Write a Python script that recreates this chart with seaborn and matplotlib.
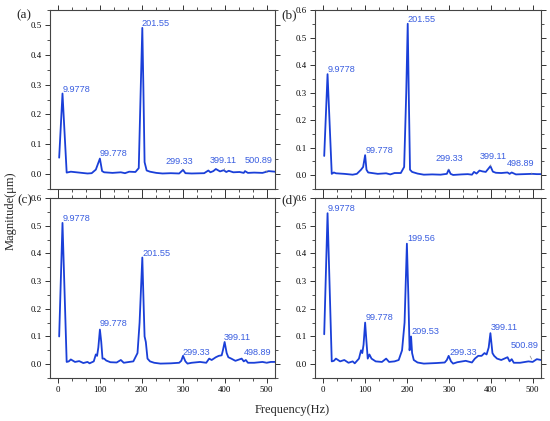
import pandas as pd
import seaborn as sns
import matplotlib
matplotlib.use("Agg")
from matplotlib import pyplot as plt
from matplotlib.ticker import MultipleLocator, AutoMinorLocator

# spectra (frequency in Hz, magnitude in um)
freq_a = [2, 9.98, 20, 30, 50, 70, 80, 90, 99.78, 105, 110, 130, 150, 160, 170, 185, 193, 198, 201.55,
          204, 207, 212, 220, 235, 250, 270, 290, 299.33, 305, 320, 350, 360, 365, 372, 378, 388, 397,
          403, 409, 420, 435, 445, 448, 455, 470, 490, 505, 520]
mag_a = [0.055, 0.27, 0.005, 0.008, 0.005, 0.002, 0.003, 0.015, 0.052, 0.01, 0.006, 0.004, 0.006, 0.003,
         0.008, 0.007, 0.02, 0.3, 0.49, 0.3, 0.04, 0.012, 0.008, 0.004, 0.002, 0.003, 0.002, 0.014, 0.003,
         0.002, 0.003, 0.012, 0.006, 0.01, 0.017, 0.009, 0.013, 0.007, 0.011, 0.006, 0.007, 0.004, 0.01,
         0.004, 0.005, 0.004, 0.01, 0.008]

freq_b = [2, 9.98, 20, 25, 30, 50, 70, 80, 90, 95, 99.78, 103, 107, 130, 150, 160, 170, 185, 193, 198,
          201.55, 204, 207, 212, 225, 240, 260, 280, 295, 299.33, 304, 310, 330, 345, 355, 360, 366, 373,
          380, 388, 399.11, 405, 412, 425, 440, 445, 450, 460, 480, 498.89, 510, 520]
mag_b = [0.07, 0.367, 0.005, 0.01, 0.007, 0.005, 0.002, 0.005, 0.02, 0.03, 0.073, 0.02, 0.01, 0.005,
         0.007, 0.003, 0.008, 0.008, 0.03, 0.3, 0.55, 0.3, 0.02, 0.012, 0.006, 0.002, 0.003, 0.002,
         0.005, 0.02, 0.005, 0.001, 0.003, 0.004, 0.002, 0.012, 0.006, 0.017, 0.014, 0.012, 0.033,
         0.013, 0.009, 0.008, 0.01, 0.005, 0.01, 0.003, 0.004, 0.005, 0.004, 0.004]

freq_c = [2, 9.98, 20, 25, 30, 40, 50, 60, 70, 75, 85, 90, 93, 96, 99.78, 103, 106, 110, 115, 125, 140,
          150, 157, 170, 180, 190, 195, 201.55, 205, 207, 210, 214, 220, 230, 245, 270, 290, 295,
          299.33, 305, 310, 320, 340, 355, 362, 368, 378, 385, 392, 395, 399.11, 404, 408, 415, 425,
          440, 445, 450, 455, 470, 490, 500, 510, 520]
mag_c = [0.1, 0.51, 0.008, 0.01, 0.017, 0.008, 0.011, 0.004, 0.008, 0.003, 0.01, 0.035, 0.03, 0.06,
         0.125, 0.08, 0.02, 0.02, 0.013, 0.007, 0.006, 0.015, 0.005, 0.008, 0.01, 0.04, 0.15, 0.385,
         0.2, 0.1, 0.08, 0.02, 0.01, 0.005, 0.002, 0.003, 0.005, 0.012, 0.03, 0.01, 0.002, 0.005,
         0.008, 0.005, 0.02, 0.015, 0.025, 0.03, 0.032, 0.05, 0.08, 0.04, 0.025, 0.02, 0.012, 0.02,
         0.01, 0.015, 0.005, 0.005, 0.008, 0.005, 0.008, 0.008]

freq_d = [2, 9.98, 20, 25, 30, 40, 50, 60, 70, 75, 85, 90, 93, 96, 99.78, 103, 106, 110, 115, 125, 140,
          150, 157, 170, 180, 188, 194, 199.56, 203, 206, 209.53, 212, 216, 225, 240, 270, 290, 295,
          299.33, 305, 310, 320, 340, 355, 362, 370, 378, 385, 390, 395, 399.11, 404, 408, 415, 425,
          440, 445, 450, 455, 470, 490, 500, 510, 520]
mag_d = [0.108, 0.545, 0.01, 0.012, 0.02, 0.01, 0.015, 0.005, 0.01, 0.003, 0.02, 0.05, 0.04, 0.07,
         0.15, 0.08, 0.02, 0.035, 0.02, 0.01, 0.008, 0.02, 0.008, 0.01, 0.015, 0.05, 0.15, 0.435, 0.25,
         0.05, 0.1, 0.04, 0.015, 0.006, 0.002, 0.004, 0.006, 0.015, 0.03, 0.01, 0.002, 0.007, 0.012,
         0.006, 0.02, 0.03, 0.03, 0.04, 0.035, 0.06, 0.112, 0.04, 0.03, 0.02, 0.015, 0.025, 0.01,
         0.018, 0.005, 0.005, 0.01, 0.008, 0.018, 0.015]

# peak labels: (text, peak frequency, peak magnitude)
peaks_a = [("9.9778", 9.98, 0.27), ("99.778", 99.78, 0.052), ("201.55", 201.55, 0.49),
           ("299.33", 299.33, 0.014), ("399.11", 399.11, 0.013), ("500.89", 500.89, 0.006)]
peaks_b = [("9.9778", 9.98, 0.367), ("99.778", 99.78, 0.073), ("201.55", 201.55, 0.55),
           ("299.33", 299.33, 0.02), ("399.11", 399.11, 0.033), ("498.89", 498.89, 0.005)]
peaks_c = [("9.9778", 9.98, 0.51), ("99.778", 99.78, 0.125), ("201.55", 201.55, 0.385),
           ("299.33", 299.33, 0.03), ("399.11", 399.11, 0.08), ("498.89", 498.89, 0.006)]
peaks_d = [("9.9778", 9.98, 0.545), ("99.778", 99.78, 0.15), ("199.56", 199.56, 0.435),
           ("209.53", 209.53, 0.1), ("299.33", 299.33, 0.03), ("399.11", 399.11, 0.112),
           ("500.89", 500.89, 0.009)]

# where each label's text sits (data coords), same order as the peaks
text_pos = {
    "a": [(9.6, 0.27), (99, 0.053), (200, 0.49), (257, 0.028), (364, 0.03), (448, 0.03)],
    "b": [(10, 0.367), (100, 0.073), (201, 0.55), (269, 0.044), (373, 0.05), (439, 0.027)],
    "c": [(10, 0.51), (99.5, 0.13), (201, 0.385), (298, 0.026), (397, 0.08), (446, 0.026)],
    "d": [(10, 0.545), (101, 0.153), (200, 0.437), (211, 0.1), (302, 0.026), (401, 0.117), (448, 0.05)],
}

sns.set_theme(style="ticks")
plt.rcParams["font.family"] = ["Liberation Serif", "DejaVu Serif"]

line_color = "#1a3fd8"
text_color = "#3a5ee0"

fig = plt.figure(figsize=(5.5, 4.21), dpi=100)
boxes = {
    "a": [50 / 550, 1 - 189 / 421, 225 / 550, 179 / 421],
    "b": [315 / 550, 1 - 189 / 421, 226 / 550, 179 / 421],
    "c": [50 / 550, 1 - 378 / 421, 225 / 550, 180 / 421],
    "d": [315 / 550, 1 - 378 / 421, 226 / 550, 180 / 421],
}
series = {"a": (freq_a, mag_a, peaks_a), "b": (freq_b, mag_b, peaks_b),
          "c": (freq_c, mag_c, peaks_c), "d": (freq_d, mag_d, peaks_d)}
tops = {"a": 0.55, "b": 0.6, "c": 0.6, "d": 0.6}

for key, box in boxes.items():
    ax = fig.add_axes(box)
    f, m, peaks = series[key]
    df = pd.DataFrame({"Frequency": f, "Magnitude": m})
    sns.lineplot(data=df, x="Frequency", y="Magnitude", ax=ax, color=line_color, linewidth=1.3)
    ax.set_xlim(-20, 520)
    ax.set_ylim(-0.05, tops[key])
    ax.xaxis.set_major_locator(MultipleLocator(100))
    ax.xaxis.set_minor_locator(AutoMinorLocator(3))
    ax.yaxis.set_major_locator(MultipleLocator(0.1))
    ax.yaxis.set_minor_locator(AutoMinorLocator(2))
    ax.yaxis.set_major_formatter(plt.FuncFormatter(lambda v, _: f"{v:.1f}"))
    ax.tick_params(which="both", direction="out", top=True, right=True, colors="#333333",
                   labelcolor="black", labelsize=6.3, pad=2.5)
    ax.tick_params(which="major", length=3.5, width=0.7)
    ax.tick_params(which="minor", length=2, width=0.6)
    for s in ax.spines.values():
        s.set_color("#444444")
        s.set_linewidth(0.8)
    ax.set_xlabel("")
    ax.set_ylabel("")
    if key in ("a", "b"):
        ax.tick_params(labelbottom=False)

    for (label, px, py), (tx, ty) in zip(peaks, text_pos[key]):
        far = abs(tx - px) > 15 or abs(ty - py) > 0.012
        ax.annotate(label, xy=(px, py), xytext=(tx, ty), textcoords="data",
                    ha="left", va="bottom", fontsize=6.6, color=text_color,
                    family=["Liberation Sans", "DejaVu Sans"],
                    arrowprops=dict(arrowstyle="-", color="#888888", lw=0.5) if far else None)

fig.text(16 / 550, 1 - 15 / 421, "(a)", fontsize=9.5, va="center")
fig.text(281 / 550, 1 - 15 / 421, "(b)", fontsize=9.5, va="center")
fig.text(17 / 550, 1 - 200 / 421, "(c)", fontsize=9.5, va="center")
fig.text(281 / 550, 1 - 200 / 421, "(d)", fontsize=9.5, va="center")
fig.text(11 / 550, 0.5, "Magnitude(\u03bcm)", rotation=90, fontsize=9, ha="center", va="center")
fig.text(292 / 550, 1 - 410 / 421, "Frequency(Hz)", fontsize=9, ha="center", va="center")

fig.savefig("out.png", dpi=100)
